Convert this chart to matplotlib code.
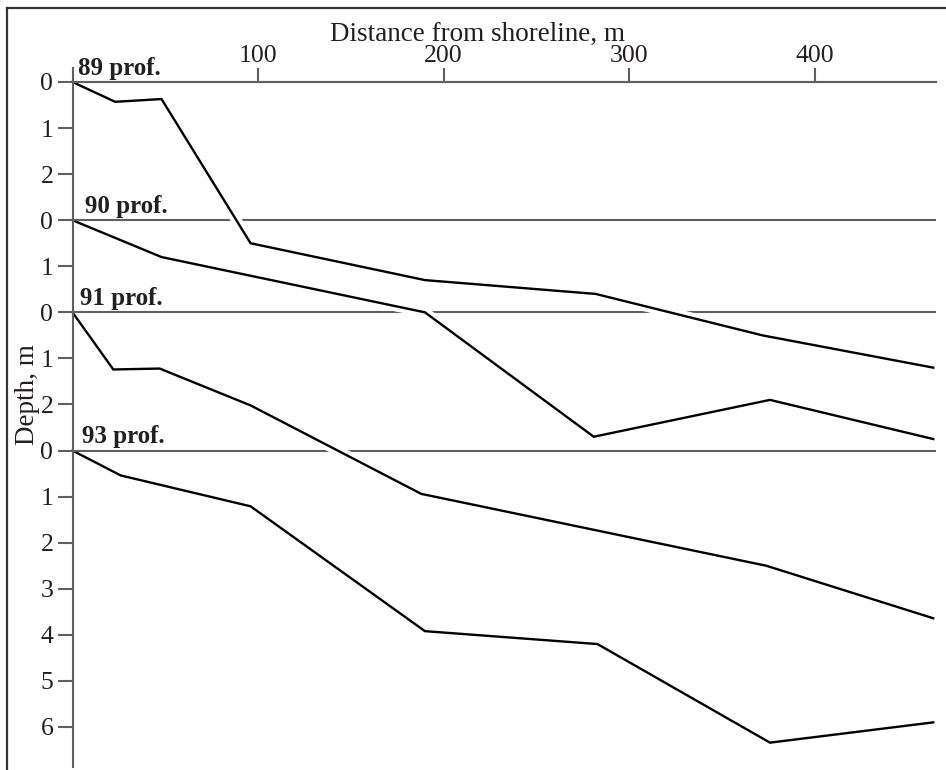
import numpy as np
import matplotlib
matplotlib.use("Agg")
import matplotlib.pyplot as plt
from matplotlib.lines import Line2D

plt.rcParams['font.family'] = ['Liberation Serif', 'DejaVu Serif']

# ---------------- data ----------------
profile_names = ["89 prof.", "90 prof.", "91 prof.", "93 prof."]
profile_offsets = [0, 3, 5, 8]          # vertical position of each profile's zero line

dist_89 = [0, 23, 48, 96, 190, 282, 372, 464]
depth_89 = [0, 0.43, 0.37, 3.5, 4.3, 4.6, 5.5, 6.2]

dist_90 = [0, 48, 190, 281, 376, 464]
depth_90 = [0, 0.8, 2.0, 4.7, 3.9, 4.75]

dist_91 = [0, 22, 47, 96, 188, 374, 464]
depth_91 = [0, 1.24, 1.22, 2.02, 3.94, 5.5, 6.64]

dist_93 = [0, 26, 96, 190, 283, 376, 464]
depth_93 = [0, 0.54, 1.21, 3.92, 4.2, 6.34, 5.9]

x_ticks = [100, 200, 300, 400]
y_tick_labels = ["0", "1", "2", "0", "1", "0", "1", "2", "0", "1", "2", "3", "4", "5", "6"]

distances = [dist_89, dist_90, dist_91, dist_93]
depths = [depth_89, depth_90, depth_91, depth_93]

# ---------------- layout ----------------
W, H = 946, 770
X0, SX = 72.5, 1.855      # px of x=0, px per metre
Y0, SY = 82.0, 46.07      # px of top zero line, px per unit
X_END = 465.5

fig = plt.figure(figsize=(W / 100, H / 100), dpi=100)
fig.patch.set_facecolor("white")
ax = fig.add_axes([0, 0, 1, 1])
ax.set_xlim(-X0 / SX, (W - X0) / SX)
ax.set_ylim((H - Y0) / SY, -Y0 / SY)
ax.patch.set_visible(False)

AX_GRAY = "#5f5f5f"
TXT = "#231f20"

# profiles drawn from bottom to top; a white band under each profile
# cuts the zero lines of the profiles below it
n = len(profile_names)
for k, i in enumerate(reversed(range(n))):
    off = profile_offsets[i]
    z = 2.0 + 0.1 * k
    yy = np.asarray(depths[i]) + off
    ax.plot(distances[i], yy, color="white", lw=7.5, solid_capstyle="butt",
            solid_joinstyle="round", zorder=z)
    ax.plot(distances[i], yy, color="black", lw=1.7, solid_joinstyle="miter",
            zorder=z + 0.02)
    ax.hlines(off, 0, X_END, color=AX_GRAY, lw=1.5, zorder=z + 0.05)

dx_px = [5.5, 12.5, 7.5, 9.5]
for i, name in enumerate(profile_names):
    ax.annotate(name, xy=(0, profile_offsets[i]), xytext=(dx_px[i], 7.5),
                textcoords="offset pixels", ha="left", va="baseline",
                fontsize=18, fontweight="bold", color=TXT, zorder=5)

# axes styling
ax.set_axisbelow(False)
for s in ["right", "bottom"]:
    ax.spines[s].set_visible(False)
ax.spines["left"].set_position(("data", 0))
ax.spines["left"].set_bounds(-14 / SY, (767 - Y0) / SY)
ax.spines["top"].set_position(("data", 0))
ax.spines["top"].set_bounds(0, X_END)
for s in ["left", "top"]:
    ax.spines[s].set_color(AX_GRAY)
    ax.spines[s].set_linewidth(1.5)
    ax.spines[s].set_zorder(3)

ax.xaxis.set_ticks_position("top")
ax.set_xticks(x_ticks)
ax.set_xticklabels([str(v) for v in x_ticks])
ax.set_yticks(range(len(y_tick_labels)))
ax.set_yticklabels(y_tick_labels)
ax.tick_params(axis="x", direction="out", length=10, width=1.5, color=AX_GRAY,
               pad=0.5, labelsize=18.5, labelcolor=TXT)
ax.tick_params(axis="y", direction="out", length=10.8, width=1.5, color=AX_GRAY,
               pad=3, labelsize=18.5, labelcolor=TXT)

fig.text(477 / W, 1 - 41 / H, "Distance from shoreline, m", ha="center", va="baseline",
         fontsize=19.5, color=TXT)
fig.text(27 / W, 1 - 395 / H, "Depth, m", ha="center", va="center", rotation=90,
         fontsize=19.5, color=TXT)

# outer frame (top and left edges visible)
fig.add_artist(Line2D([7 / W, 1.0], [1 - 8.3 / H] * 2, transform=fig.transFigure,
                      color="#333333", lw=1.6))
fig.add_artist(Line2D([7 / W] * 2, [1 - 8.3 / H, 0.0], transform=fig.transFigure,
                      color="#333333", lw=1.6))

fig.savefig("out.png", dpi=100, facecolor="white")
